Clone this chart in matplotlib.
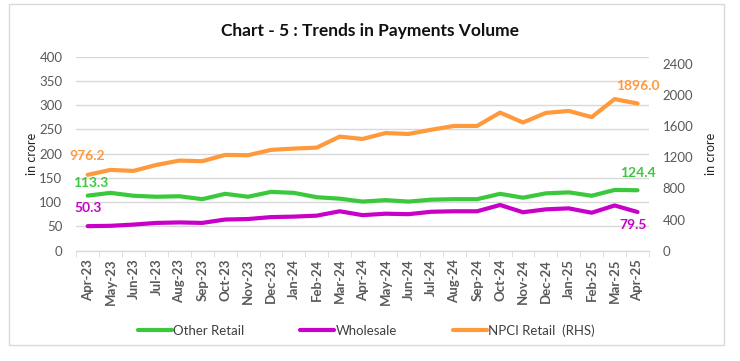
import numpy as np
import matplotlib.pyplot as plt
from matplotlib.patches import Rectangle

# Monthly payments volume (in crore)
months = ['Apr-23', 'May-23', 'Jun-23', 'Jul-23', 'Aug-23', 'Sep-23', 'Oct-23',
          'Nov-23', 'Dec-23', 'Jan-24', 'Feb-24', 'Mar-24', 'Apr-24', 'May-24',
          'Jun-24', 'Jul-24', 'Aug-24', 'Sep-24', 'Oct-24', 'Nov-24', 'Dec-24',
          'Jan-25', 'Feb-25', 'Mar-25', 'Apr-25']
other_retail = [113.3, 119, 113, 111, 112, 106, 117, 111, 121, 119, 110, 107, 101,
                104, 101, 105, 106, 106, 117, 109, 118, 120, 113, 125, 124.4]
wholesale = [50.3, 51, 53.6, 57, 58, 57, 64, 65, 69, 70, 72, 81, 73,
             76, 75, 80, 81, 81, 94, 79, 85, 87, 78, 93, 79.5]
npci_retail = [976.2, 1040, 1027, 1104, 1160, 1152, 1233, 1229, 1298, 1315, 1327, 1469, 1439,
               1515, 1503, 1558, 1607, 1607, 1779, 1651, 1775, 1800, 1721, 1953, 1896.0]

GREEN = '#3CC83C'
MAGENTA = '#C800C8'
ORANGE = '#FF9A3C'
GREY = '#595959'

plt.rcParams['font.family'] = ['Lato', 'DejaVu Sans']

fig = plt.figure(figsize=(7.4, 3.61), dpi=100)
ax = fig.add_axes([0.103, 0.306, 0.774, 0.537])
ax2 = ax.twinx()

x = np.arange(len(months))
ax.plot(x, other_retail, color=GREEN, lw=3, solid_capstyle='round', label='Other Retail', zorder=3)
ax.plot(x, wholesale, color=MAGENTA, lw=3, solid_capstyle='round', label='Wholesale', zorder=3)
ax2.plot(x, npci_retail, color=ORANGE, lw=3, solid_capstyle='round', label='NPCI Retail  (RHS)')

ax.set_xlim(-0.5, len(months) - 0.5)
ax.set_ylim(0, 400)
ax.set_yticks(np.arange(0, 401, 50))
ax2.set_ylim(0, 2500)
ax2.set_yticks(np.arange(0, 2401, 400))
ax.grid(axis='y', color='#D9D9D9', lw=1)
ax.set_axisbelow(True)

ax.set_xticks(x)
ax.set_xticklabels(months, rotation=90, fontweight='bold', fontsize=9.5, color=GREY)
ax.set_xticks(np.arange(-0.5, len(months)), minor=True)
ax.tick_params(axis='x', which='major', length=0, pad=6)
ax.tick_params(axis='x', which='minor', length=4, color='#D9D9D9')
ax.tick_params(axis='y', length=0, labelsize=9.5, labelcolor=GREY, pad=10)
ax2.tick_params(axis='y', length=0, labelsize=9.5, labelcolor=GREY, pad=10)

for a in (ax, ax2):
    for s in ('top', 'left', 'right'):
        a.spines[s].set_visible(False)
    a.spines['bottom'].set_color('#D9D9D9')

ax.set_ylabel('in crore', fontsize=9, color='#222222', labelpad=1)
ax2.set_ylabel('in crore', fontsize=9, color='#222222', rotation=90, labelpad=8)

# data labels on first and last points
ax.annotate(f'{other_retail[0]:.1f}', (x[0], other_retail[0]), xytext=(2, 5), textcoords='offset points',
            ha='center', va='bottom', color=GREEN, fontweight='bold', fontsize=10)
ax.annotate(f'{wholesale[0]:.1f}', (x[0], wholesale[0]), xytext=(0, 9), textcoords='offset points',
            ha='center', va='bottom', color=MAGENTA, fontweight='bold', fontsize=10)
ax2.annotate(f'{npci_retail[0]:.1f}', (x[0], npci_retail[0]), xytext=(0, 9), textcoords='offset points',
             ha='center', va='bottom', color=ORANGE, fontweight='bold', fontsize=10)
ax.annotate(f'{other_retail[-1]:.1f}', (x[-1], other_retail[-1]), xytext=(0, 8), textcoords='offset points',
            ha='center', va='bottom', color=GREEN, fontweight='bold', fontsize=10)
ax.annotate(f'{wholesale[-1]:.1f}', (x[-1], wholesale[-1]), xytext=(-3, -5), textcoords='offset points',
            ha='center', va='top', color=MAGENTA, fontweight='bold', fontsize=10)
ax2.annotate(f'{npci_retail[-1]:.1f}', (x[-1], npci_retail[-1]), xytext=(0, 8), textcoords='offset points',
             ha='center', va='bottom', color=ORANGE, fontweight='bold', fontsize=10)

fig.text(0.5, 0.915, 'Chart - 5 : Trends in Payments Volume', ha='center', va='center',
         fontsize=12.5, fontweight='bold', color='#111111')

handles = ax.get_lines() + ax2.get_lines()
fig.legend(handles, [h.get_label() for h in handles], loc='center', ncol=3,
           bbox_to_anchor=(0.495, 0.085), frameon=False, fontsize=9.5, handlelength=2.6,
           handletextpad=0.1, columnspacing=4.2, labelcolor='#404040')

fig.patches.append(Rectangle((0.012, 0.045), 0.966, 0.945, transform=fig.transFigure,
                             fill=False, edgecolor='#D9D9D9', lw=1))

plt.savefig('out.png', dpi=100)
